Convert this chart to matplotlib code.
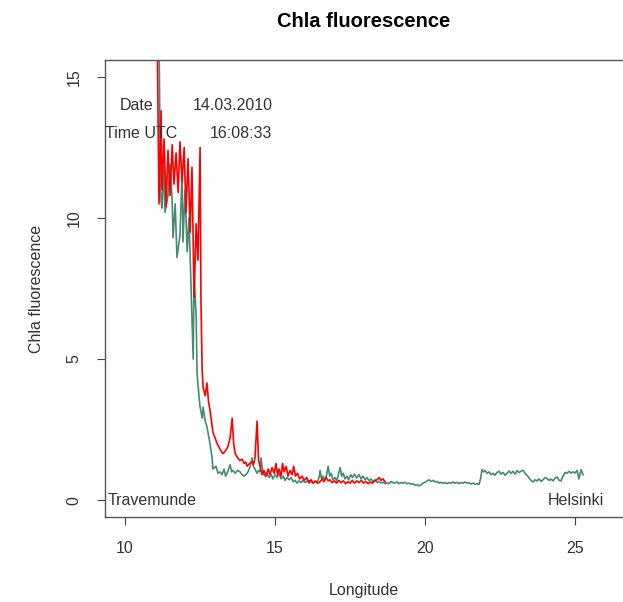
import numpy as np
import matplotlib.pyplot as plt

plt.rcParams['font.family'] = ['Liberation Sans', 'DejaVu Sans']

# green track (lon, chla)
green_lon = [11.13, 11.17, 11.20, 11.23, 11.30, 11.33, 11.43, 11.50, 11.57, 11.60,
             11.67, 11.73, 11.83, 11.90, 11.93, 12.00, 12.07, 12.13, 12.20, 12.27,
             12.30, 12.37, 12.40, 12.47, 12.50, 12.57, 12.60, 12.67, 12.73, 12.83,
             12.90, 12.93, 13.03, 13.10, 13.17, 13.23, 13.30, 13.35, 13.40, 13.50,
             13.55, 13.60, 13.67, 13.75, 13.83, 13.90, 13.97, 14.07, 14.12, 14.17,
             14.23, 14.28, 14.33, 14.40, 14.45, 14.50, 14.53,
             14.60, 14.67, 14.73, 14.80, 14.87, 14.93, 15.00, 15.07, 15.13, 15.20,
             15.27, 15.33, 15.40, 15.47, 15.53, 15.60, 15.67, 15.73, 15.80, 15.87,
             15.93, 16.00, 16.07, 16.13, 16.20, 16.27, 16.33, 16.40, 16.47, 16.50,
             16.55, 16.60, 16.65, 16.72, 16.77, 16.82, 16.87, 16.93, 17.00, 17.05,
             17.10, 17.17, 17.22, 17.27, 17.33, 17.40, 17.45, 17.52, 17.58, 17.65,
             17.72, 17.80, 17.87, 17.93, 18.00, 18.07, 18.13, 18.20, 18.27, 18.33,
             18.40, 18.47, 18.53, 18.60, 18.67, 18.73,
             18.80, 18.87, 18.93, 19.00, 19.07, 19.13, 19.20, 19.27, 19.33, 19.40,
             19.47, 19.53, 19.60, 19.67, 19.73, 19.80, 19.87, 19.93, 20.00, 20.07,
             20.13, 20.20, 20.27, 20.33, 20.40, 20.47, 20.53, 20.60, 20.67, 20.73,
             20.80, 20.87, 20.93, 21.00, 21.07, 21.13, 21.20, 21.27, 21.33, 21.40,
             21.47, 21.53, 21.60, 21.67, 21.73, 21.80, 21.85, 21.90, 21.95, 22.00,
             22.07, 22.13, 22.20, 22.27, 22.33, 22.40, 22.47, 22.53, 22.60, 22.67,
             22.73, 22.80, 22.87, 22.93, 23.00, 23.07, 23.13, 23.20, 23.27, 23.33,
             23.40, 23.47, 23.53, 23.60, 23.67, 23.73, 23.80, 23.87, 23.93, 24.00,
             24.07, 24.13, 24.20, 24.27, 24.33, 24.40, 24.47, 24.53, 24.60, 24.67,
             24.73, 24.80, 24.87, 24.93, 25.00, 25.07, 25.13, 25.20, 25.27]
green_val = [16.5, 12.0, 10.6, 10.35, 11.8, 10.2, 10.8, 11.9, 10.6, 9.3,
             10.5, 8.6, 9.4, 11.7, 9.15, 11.0, 8.8, 10.0, 7.5, 5.0,
             8.0, 6.5, 4.5, 3.6, 3.3, 2.9, 3.3, 2.8, 2.6, 2.0,
             1.5, 1.1, 1.2, 0.95, 1.0, 0.9, 1.1, 0.85, 0.95, 1.25,
             1.0, 1.05, 0.95, 1.05, 1.0, 0.9, 0.85, 0.95, 1.05, 1.2,
             1.5, 1.2, 1.1, 0.95, 1.05, 1.0, 1.5,
             0.95, 0.85, 0.95, 0.8, 0.9, 0.75, 0.9, 0.8, 0.95, 0.75,
             0.85, 0.7, 0.8, 0.72, 0.8, 0.65, 0.7, 0.6, 0.68, 0.62,
             0.7, 0.62, 0.68, 0.6, 0.66, 0.6, 0.65, 0.62, 0.8, 1.05,
             0.75, 0.85, 0.7, 0.9, 1.2, 0.85, 0.95, 0.72, 0.8, 0.68,
             0.85, 1.15, 0.85, 0.95, 0.75, 0.85, 0.72, 0.9, 0.8, 0.92,
             0.78, 0.9, 0.75, 0.85, 0.72, 0.8, 0.68, 0.75, 0.65, 0.72,
             0.62, 0.66, 0.6, 0.64, 0.58, 0.62,
             0.58, 0.66, 0.62, 0.6, 0.65, 0.58, 0.62, 0.6, 0.63, 0.58,
             0.6, 0.56, 0.58, 0.52, 0.55, 0.5, 0.55, 0.6, 0.63, 0.68,
             0.72, 0.66, 0.7, 0.64, 0.66, 0.6, 0.63, 0.6, 0.62, 0.58,
             0.62, 0.6, 0.64, 0.6, 0.63, 0.58, 0.62, 0.6, 0.64, 0.6,
             0.62, 0.57, 0.6, 0.56, 0.58, 0.56, 0.75, 1.08, 1.0, 1.05,
             0.95, 1.0, 0.9, 0.95, 0.88, 0.98, 1.02, 0.92, 0.98, 0.88,
             0.95, 1.03, 0.95, 1.02, 0.92, 1.05, 0.98, 1.02, 1.06, 0.95,
             0.88, 0.78, 0.7, 0.64, 0.72, 0.68, 0.75, 0.66, 0.72, 0.8,
             0.76, 0.7, 0.74, 0.68, 0.78, 0.82, 0.7, 0.68, 0.85, 0.98,
             0.95, 1.02, 0.96, 1.0, 0.96, 1.05, 0.75, 1.08, 0.9]

# red track (lon, chla)
red_lon = [11.07, 11.10, 11.13, 11.20, 11.23, 11.30, 11.37, 11.43, 11.50, 11.57,
           11.63, 11.70, 11.77, 11.83, 11.90, 11.97, 12.03, 12.10, 12.17, 12.23,
           12.30, 12.37, 12.43, 12.50, 12.53, 12.57, 12.60, 12.67, 12.73, 12.78,
           12.83, 12.93, 13.00, 13.07, 13.12, 13.17, 13.22, 13.27, 13.35, 13.43,
           13.50, 13.57, 13.62, 13.67, 13.75, 13.83, 13.90, 13.97, 14.02, 14.07,
           14.15, 14.23, 14.28, 14.33, 14.40, 14.45,
           14.50, 14.57, 14.63, 14.70, 14.77, 14.83, 14.90, 14.97, 15.03, 15.08,
           15.13, 15.20, 15.25, 15.30, 15.37, 15.43, 15.50, 15.57, 15.62, 15.68,
           15.75, 15.82, 15.90, 15.97, 16.05, 16.12, 16.20, 16.27, 16.35, 16.42,
           16.50, 16.57, 16.63, 16.70, 16.77, 16.83, 16.90, 16.97, 17.05, 17.12,
           17.20, 17.28, 17.35, 17.43, 17.50, 17.57, 17.65, 17.72, 17.80, 17.88,
           17.95, 18.02, 18.10, 18.18, 18.25, 18.32, 18.40, 18.47, 18.53, 18.60,
           18.67]
red_val = [16.5, 13.5, 10.5, 13.8, 11.0, 12.8, 10.4, 12.4, 10.8, 12.6,
           11.2, 12.3, 10.9, 12.7, 11.3, 12.5, 10.2, 12.1, 9.5, 11.8,
           7.2, 9.8, 8.5, 12.5, 7.0, 4.6, 4.0, 3.7, 4.15, 3.5,
           3.2, 2.4, 2.2, 2.0, 1.9, 1.8, 1.7, 1.65, 1.75, 1.9,
           2.2, 2.9, 2.0, 1.65, 1.5, 1.4, 1.45, 1.3, 1.35, 1.2,
           1.3, 1.35, 1.25, 1.5, 2.8, 1.4,
           1.2, 0.9, 1.05, 0.85, 1.1, 0.9, 1.15, 0.95, 1.3, 0.9,
           1.1, 0.85, 1.3, 1.0, 1.2, 0.85, 1.05, 0.9, 1.2, 0.85,
           0.95, 0.75, 0.85, 0.7, 0.8, 0.65, 0.72, 0.6, 0.68, 0.6,
           0.65, 0.75, 0.65, 0.8, 0.68, 0.72, 0.62, 0.68, 0.6, 0.7,
           0.62, 0.68, 0.58, 0.65, 0.6, 0.7, 0.6, 0.68, 0.62, 0.7,
           0.6, 0.66, 0.58, 0.64, 0.6, 0.68, 0.72, 0.8, 0.7, 0.75,
           0.65]

fig = plt.figure(figsize=(6.23, 6.02), dpi=100)
ax = fig.add_axes([105 / 623, 85 / 602, 1 - 105 / 623, 457 / 602])

ax.plot(green_lon, green_val, color='#458B74', linewidth=1.2)
ax.plot(red_lon, red_val, color='red', linewidth=1.2)

ax.set_xlim(9.33, 26.6)
ax.set_ylim(-0.6, 15.6)
ax.set_xticks([10, 15, 20, 25])
ax.set_yticks([0, 5, 10, 15])
ax.tick_params(length=6, width=0.8, color='#444444', labelcolor='#333333',
               labelsize=11.5, pad=11)
for lab in ax.get_yticklabels():
    lab.set_rotation(90)
    lab.set_va('center')
for s in ['left', 'bottom', 'top']:
    ax.spines[s].set_color('#555555')
    ax.spines[s].set_linewidth(1.0)
ax.spines['right'].set_visible(False)

fs = 11.5
tc = '#333333'
ax.text(10.37, 14.0, 'Date', fontsize=fs, ha='center', va='center', color=tc)
ax.text(14.93, 14.0, '14.03.2010', fontsize=fs, ha='right', va='center', color=tc)
ax.text(10.53, 13.0, 'Time UTC', fontsize=fs, ha='center', va='center', color=tc)
ax.text(14.9, 13.0, '16:08:33', fontsize=fs, ha='right', va='center', color=tc)
ax.text(9.43, 0.0, 'Travemunde', fontsize=fs, ha='left', va='center', color=tc)
ax.text(25.97, 0.0, 'Helsinki', fontsize=fs, ha='right', va='center', color=tc)

ax.set_title('Chla fluorescence', fontsize=14.5, fontweight='bold', pad=24)
ax.set_xlabel('Longitude', fontsize=fs, labelpad=20, color=tc)
ax.set_ylabel('Chla fluorescence', fontsize=fs, labelpad=16, color=tc)

fig.savefig('out.png', dpi=100)
